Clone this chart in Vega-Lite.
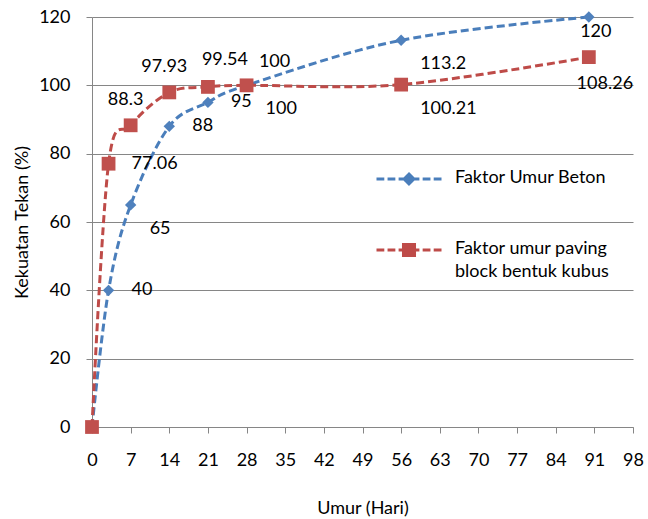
{
  "$schema": "https://vega.github.io/schema/vega-lite/v6.json",
  "width": 541,
  "height": 410,
  "autosize": {"type": "none"},
  "padding": {"left": 92, "top": 17, "right": 15, "bottom": 92},
  "background": "white",
  "config": {
    "font": "Lato",
    "view": {"stroke": null},
    "axis": {
      "labelFont": "Lato", "labelFontSize": 18, "labelColor": "#000000",
      "titleFont": "Lato", "titleFontSize": 18, "titleFontWeight": "normal", "titleColor": "#000000",
      "domainColor": "#868686", "tickColor": "#868686", "gridColor": "#868686",
      "domainWidth": 1, "tickWidth": 1, "gridWidth": 1, "tickSize": 6
    },
    "text": {"font": "Lato", "fontSize": 18, "color": "#000000"}
  },
  "data": {
    "values": [
      {"series": "Faktor Umur Beton", "umur": 0, "kekuatan": 0},
      {"series": "Faktor Umur Beton", "umur": 3, "kekuatan": 40},
      {"series": "Faktor Umur Beton", "umur": 7, "kekuatan": 65},
      {"series": "Faktor Umur Beton", "umur": 14, "kekuatan": 88},
      {"series": "Faktor Umur Beton", "umur": 21, "kekuatan": 95},
      {"series": "Faktor Umur Beton", "umur": 28, "kekuatan": 100},
      {"series": "Faktor Umur Beton", "umur": 56, "kekuatan": 113.2},
      {"series": "Faktor Umur Beton", "umur": 90, "kekuatan": 120},
      {"series": "Faktor umur paving block bentuk kubus", "umur": 0, "kekuatan": 0},
      {"series": "Faktor umur paving block bentuk kubus", "umur": 3, "kekuatan": 77.06},
      {"series": "Faktor umur paving block bentuk kubus", "umur": 7, "kekuatan": 88.3},
      {"series": "Faktor umur paving block bentuk kubus", "umur": 14, "kekuatan": 97.93},
      {"series": "Faktor umur paving block bentuk kubus", "umur": 21, "kekuatan": 99.54},
      {"series": "Faktor umur paving block bentuk kubus", "umur": 28, "kekuatan": 100},
      {"series": "Faktor umur paving block bentuk kubus", "umur": 56, "kekuatan": 100.21},
      {"series": "Faktor umur paving block bentuk kubus", "umur": 90, "kekuatan": 108.26}
    ]
  },
  "encoding": {
    "x": {
      "field": "umur", "type": "quantitative",
      "scale": {"domain": [0, 98], "nice": false, "zero": true},
      "axis": {
        "values": [0, 7, 14, 21, 28, 35, 42, 49, 56, 63, 70, 77, 84, 91, 98],
        "grid": false, "title": "Umur (Hari)", "labelPadding": 18, "titlePadding": 30,
        "labelFlush": false
      }
    },
    "y": {
      "field": "kekuatan", "type": "quantitative",
      "scale": {"domain": [0, 120], "nice": false},
      "axis": {
        "values": [0, 20, 40, 60, 80, 100, 120],
        "grid": true, "title": "Kekuatan Tekan (%)", "labelPadding": 16, "titlePadding": 7
      }
    }
  },
  "layer": [
    {
      "transform": [{"filter": "datum.series == 'Faktor Umur Beton'"}],
      "mark": {"type": "line", "interpolate": "cardinal", "strokeDash": [8, 4], "strokeWidth": 3},
      "encoding": {
        "color": {
          "field": "series", "type": "nominal",
          "scale": {"domain": ["Faktor Umur Beton", "Faktor umur paving block bentuk kubus"], "range": ["#4A7EBB", "#BE4B48"]},
          "legend": {
            "title": null, "orient": "none", "legendX": 283, "legendY": 128,
            "padding": 0, "symbolSize": 4225, "symbolStrokeWidth": 3,
            "labelFont": "Lato", "labelFontSize": 18, "labelColor": "#000000", "labelOffset": 12,
            "labelLimit": 400, "rowPadding": 26,
            "labelExpr": "datum.value == 'Faktor Umur Beton' ? datum.label : ['Faktor umur paving', 'block bentuk kubus']",
            "encode": {
              "labels": {
                "update": {
                  "baseline": {"value": "top"},
                  "dy": {"value": -10},
                  "lineHeight": {"value": 23}
                }
              },
              "symbols": {
                "update": {
                  "shape": {"signal": "datum.value == 'Faktor Umur Beton' ? 'M-1,0H-0.76M-0.66,0H-0.42M-0.32,0H0.32M0.42,0H0.66M0.76,0H1M0,-0.15L0.15,0L0,0.15L-0.15,0Z' : 'M-1,0H-0.76M-0.66,0H-0.42M-0.32,0H0.32M0.42,0H0.66M0.76,0H1M-0.17,-0.17H0.17V0.17H-0.17Z'"},
                  "fill": {"signal": "scale('color', datum.value)"},
                  "stroke": {"signal": "scale('color', datum.value)"},
                  "strokeDash": {"value": []},
                  "opacity": {"value": 1},
                  "fillOpacity": {"value": 1}
                }
              }
            }
          }
        }
      }
    },
    {
      "transform": [{"filter": "datum.series != 'Faktor Umur Beton'"}],
      "mark": {"type": "line", "interpolate": "cardinal", "strokeDash": [8, 4], "strokeWidth": 3},
      "encoding": {"color": {"field": "series", "type": "nominal"}}
    },
    {
      "transform": [{"filter": "datum.series == 'Faktor Umur Beton'"}],
      "mark": {"type": "point", "shape": "diamond", "filled": true, "size": 130, "color": "#4F81BD", "opacity": 1}
    },
    {
      "transform": [{"filter": "datum.series != 'Faktor Umur Beton'"}],
      "mark": {"type": "point", "shape": "square", "filled": true, "size": 190, "color": "#C0504D", "opacity": 1}
    },
    {
      "transform": [{"filter": "(datum.series == 'Faktor Umur Beton' && indexof([3, 14, 21], datum.umur) >= 0) || (datum.series != 'Faktor Umur Beton' && datum.umur == 3)"}],
      "mark": {"type": "text", "align": "left", "baseline": "middle", "dx": 23, "dy": 0},
      "encoding": {"text": {"field": "kekuatan", "type": "nominal"}}
    },
    {
      "transform": [{"filter": "(datum.series == 'Faktor Umur Beton' && indexof([7, 28, 56], datum.umur) >= 0) || (datum.series != 'Faktor Umur Beton' && datum.umur == 56)"}],
      "mark": {"type": "text", "align": "left", "baseline": "middle", "dx": 19, "dy": 24},
      "encoding": {"text": {"field": "kekuatan", "type": "nominal"}}
    },
    {
      "transform": [{"filter": "datum.series == 'Faktor Umur Beton' && datum.umur == 90"}],
      "mark": {"type": "text", "align": "center", "baseline": "middle", "dx": 7, "dy": 15},
      "encoding": {"text": {"field": "kekuatan", "type": "nominal"}}
    },
    {
      "transform": [{"filter": "datum.series != 'Faktor Umur Beton' && datum.umur == 90"}],
      "mark": {"type": "text", "align": "center", "baseline": "middle", "dx": 16, "dy": 27},
      "encoding": {"text": {"field": "kekuatan", "type": "nominal"}}
    },
    {
      "transform": [{"filter": "datum.series != 'Faktor Umur Beton' && (datum.umur == 7 || datum.umur == 14)"}],
      "mark": {"type": "text", "align": "center", "baseline": "middle", "dx": -5, "dy": -25},
      "encoding": {"text": {"field": "kekuatan", "type": "nominal"}}
    },
    {
      "transform": [{"filter": "datum.series != 'Faktor Umur Beton' && datum.umur == 21"}],
      "mark": {"type": "text", "align": "center", "baseline": "middle", "dx": 17, "dy": -27},
      "encoding": {"text": {"field": "kekuatan", "type": "nominal"}}
    },
    {
      "transform": [{"filter": "datum.series != 'Faktor Umur Beton' && datum.umur == 28"}],
      "mark": {"type": "text", "align": "center", "baseline": "middle", "dx": 28, "dy": -23},
      "encoding": {"text": {"field": "kekuatan", "type": "nominal"}}
    }
  ]
}
